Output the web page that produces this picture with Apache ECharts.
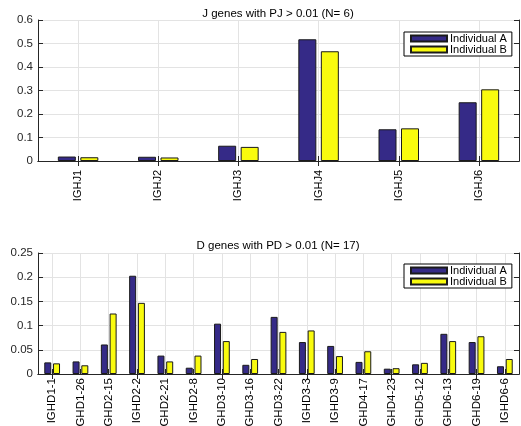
<!DOCTYPE html>
<html>
<head>
<meta charset="utf-8">
<script src="https://cdn.jsdelivr.net/npm/echarts@6/dist/echarts.min.js"></script>
<style>html,body{margin:0;padding:0;background:#fff;}#c{width:521px;height:426px;}</style>
</head>
<body>
<div id="c"></div>
<script>
const jCategories = ['IGHJ1','IGHJ2','IGHJ3','IGHJ4','IGHJ5','IGHJ6'];
const jIndA = [0.019, 0.018, 0.065, 0.518, 0.135, 0.250];
const jIndB = [0.016, 0.015, 0.060, 0.467, 0.139, 0.305];
const jTitle = 'J genes with PJ > 0.01 (N= 6)';

const dCategories = ['IGHD1-1','IGHD1-26','IGHD2-15','IGHD2-2','IGHD2-21','IGHD2-8','IGHD3-10','IGHD3-16','IGHD3-22','IGHD3-3','IGHD3-9','IGHD4-17','IGHD4-23','IGHD5-12','IGHD6-13','IGHD6-19','IGHD6-6'];
const dIndA = [0.024, 0.026, 0.061, 0.203, 0.038, 0.013, 0.104, 0.019, 0.118, 0.066, 0.058, 0.025, 0.011, 0.020, 0.083, 0.066, 0.016];
const dIndB = [0.022, 0.018, 0.125, 0.147, 0.026, 0.038, 0.068, 0.031, 0.087, 0.090, 0.037, 0.047, 0.012, 0.023, 0.068, 0.078, 0.031];
const dTitle = 'D genes with PD > 0.01 (N= 17)';

const seriesNames = ['Individual A','Individual B'];
const colA = '#352a87', colB = '#f9fb0e';
const axisCol = '#262626', gridCol = '#e3e3e3';
const font = 'Liberation Sans';

const chart = echarts.init(document.getElementById('c'), null, {renderer:'canvas'});

function fmt(v) { return String(+Number(v).toFixed(4)); }

function xMain(grid, cats, margin, fs) {
  return {type:'category', gridIndex:grid, data:cats, position:'bottom',
    axisLine:{show:true, lineStyle:{color:axisCol, width:1}},
    axisTick:{show:true, inside:true, length:5, alignWithLabel:true, lineStyle:{color:axisCol}},
    splitLine:{show:true, alignWithLabel:true, lineStyle:{color:gridCol, width:1}},
    axisLabel:{rotate:90, margin:margin, color:'#000', fontSize:fs, fontFamily:font, interval:0, hideOverlap:false}};
}
function xTop(grid, cats) {
  return {type:'category', gridIndex:grid, data:cats, position:'top',
    axisLine:{show:true, lineStyle:{color:axisCol}},
    axisTick:{show:true, inside:true, length:5, alignWithLabel:true, lineStyle:{color:axisCol}},
    splitLine:{show:false}, axisLabel:{show:false}};
}
function yMain(grid, max, interval) {
  return {type:'value', gridIndex:grid, min:0, max:max, interval:interval, position:'left',
    axisLine:{show:true, lineStyle:{color:axisCol}},
    axisTick:{show:true, inside:true, length:5, lineStyle:{color:axisCol}},
    splitLine:{show:true, lineStyle:{color:gridCol}},
    axisLabel:{color:'#262626', fontSize:11.5, fontFamily:font, margin:5, formatter:fmt}};
}
function yRight(grid, max, interval) {
  return {type:'value', gridIndex:grid, min:0, max:max, interval:interval, position:'right',
    axisLine:{show:true, lineStyle:{color:axisCol}},
    axisTick:{show:true, inside:true, length:5, lineStyle:{color:axisCol}},
    splitLine:{show:false}, axisLabel:{show:false}};
}
function bar(name, data, color, xi, yi, width) {
  return {type:'bar', name:name, data:data, xAxisIndex:xi, yAxisIndex:yi,
    barWidth:width, barGap:'25%',
    itemStyle:{color:color, borderColor:'#1a1a1a', borderWidth:1}, z:3};
}
function legend(top) {
  return {data:seriesNames, orient:'vertical', left:404, top:top, icon:'rect',
    itemWidth:36, itemHeight:6, itemGap:0, padding:[1,5,1,6],
    borderColor:'#000', borderWidth:1, backgroundColor:'#fff',
    textStyle:{fontSize:11, lineHeight:10, fontFamily:font, color:'#000', padding:[0,0,0,-2]}, selectedMode:false};
}

chart.setOption({
  animation:false,
  backgroundColor:'#fff',
  title:[
    {text:jTitle, left:273, top:3, textAlign:'center', textStyle:{fontSize:11.5, fontWeight:'normal', color:'#000', fontFamily:font}},
    {text:dTitle, left:273, top:235, textAlign:'center', textStyle:{fontSize:11.5, fontWeight:'normal', color:'#000', fontFamily:font}}
  ],
  legend:[legend(32), legend(264)],
  grid:[
    {left:38, top:20, width:481, height:141, containLabel:false, outerBoundsMode:'none'},
    {left:38, top:253, width:481, height:121, containLabel:false, outerBoundsMode:'none'}
  ],
  xAxis:[xMain(0, jCategories, 9, 11), xTop(0, jCategories), xMain(1, dCategories, 4, 11.5), xTop(1, dCategories)],
  yAxis:[yMain(0, 0.6, 0.1), yRight(0, 0.6, 0.1), yMain(1, 0.25, 0.05), yRight(1, 0.25, 0.05)],
  series:[
    bar(seriesNames[0], jIndA, colA, 0, 0, 18),
    bar(seriesNames[1], jIndB, colB, 0, 0, 18),
    bar(seriesNames[0], dIndA, colA, 2, 2, 7),
    bar(seriesNames[1], dIndB, colB, 2, 2, 7)
  ]
});
</script>
</body>
</html>
